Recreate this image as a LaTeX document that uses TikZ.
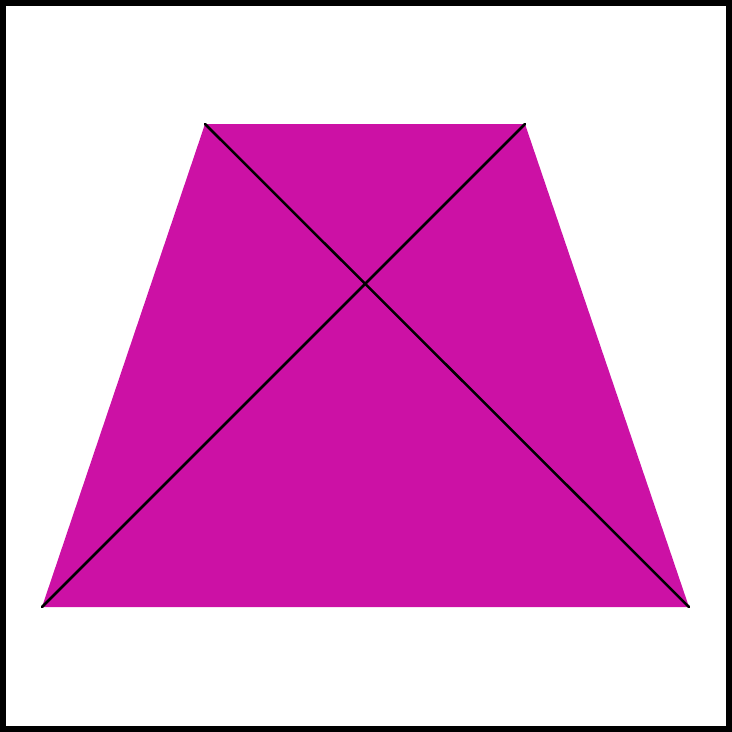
\documentclass[tikz,border=0pt]{standalone}
\usepackage{tikz}
\definecolor{trapfill}{HTML}{CC11A5}
\tikzset{
  frame/.style={draw=black,line width=0.06cm},
  trap/.style={fill=trapfill,draw=none},
  diag/.style={draw=black,line width=0.025cm,line cap=round},
}
\begin{document}
\begin{tikzpicture}[x=0.01cm,y=-0.01cm]
\useasboundingbox (0,0) rectangle (732,732);
\draw[frame] (3,3) rectangle (729,729);
\coordinate (tl) at (205,124);
\coordinate (tr) at (525,124);
\coordinate (br) at (689,607);
\coordinate (bl) at (42,607);
\path[trap] (tl) -- (tr) -- (br) -- (bl) -- cycle;
\draw[diag] (tl) -- (br);
\draw[diag] (tr) -- (bl);
\end{tikzpicture}
\end{document}
